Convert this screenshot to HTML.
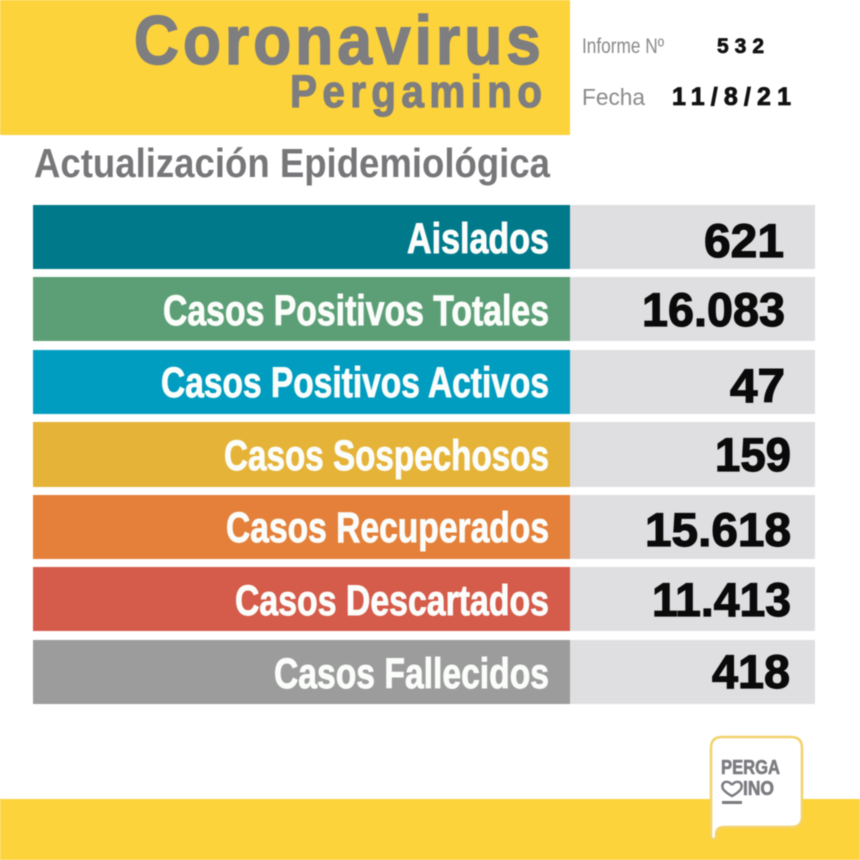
<!DOCTYPE html>
<html lang="es">
<head>
<meta charset="utf-8">
<title>Coronavirus Pergamino</title>
<style>
html,body{margin:0;padding:0;background:#fff;width:860px;height:860px;overflow:hidden}
svg{display:block;filter:blur(0.6px)}
text{font-family:"Liberation Sans",sans-serif}
.lab{font-weight:700;font-size:43px;fill:#fbfdfb;stroke:#fbfdfb;stroke-width:.9px;text-anchor:start}
.val{font-weight:700;font-size:47px;fill:#0a0a0a;stroke:#0a0a0a;stroke-width:1.2px}
.tit{font-weight:700;fill:#7e7e80;stroke:#7e7e80}
</style>
</head>
<body>
<svg xmlns="http://www.w3.org/2000/svg" width="860" height="860" viewBox="0 0 860 860">
  <rect x="0" y="0" width="860" height="860" fill="#ffffff"/>
  <rect x="0" y="0" width="570" height="135" fill="#fdd33b"/>
  <text class="tit" transform="translate(134 64) scale(.9 1)" x="0" y="0" font-size="69" stroke-width="1.6" textLength="452" lengthAdjust="spacing">Coronavirus</text>
  <text class="tit" transform="translate(290 107) scale(.9 1)" x="0" y="0" font-size="45" stroke-width="1.2" textLength="280" lengthAdjust="spacing">Pergamino</text>

  <text x="582" y="53" font-size="21" fill="#8a8a8c" textLength="82" lengthAdjust="spacingAndGlyphs">Informe Nº</text>
  <text x="717" y="53" font-size="21" font-weight="700" fill="#111" stroke="#111" stroke-width=".7" textLength="47" lengthAdjust="spacing">532</text>
  <text x="582" y="105" font-size="23" fill="#8a8a8c" textLength="63" lengthAdjust="spacingAndGlyphs">Fecha</text>
  <text x="672" y="105" font-size="25" font-weight="700" fill="#111" stroke="#111" stroke-width=".8" textLength="119" lengthAdjust="spacing">11/8/21</text>

  <text x="34" y="177" font-size="41" font-weight="700" fill="#77777a" textLength="516" lengthAdjust="spacingAndGlyphs">Actualización Epidemiológica</text>

  <g>
    <rect x="33" y="205" width="537" height="64" fill="#007a8b"/>
    <rect x="570" y="205" width="245" height="64" fill="#dfdee1"/>
    <text class="lab" x="407" y="253" textLength="142" lengthAdjust="spacingAndGlyphs">Aislados</text>
    <text class="val" x="704" y="257" textLength="80" lengthAdjust="spacingAndGlyphs">621</text>
  </g>
  <g>
    <rect x="33" y="277" width="537" height="64" fill="#5c9f76"/>
    <rect x="570" y="277" width="245" height="64" fill="#dfdee1"/>
    <text class="lab" x="163" y="325" textLength="386" lengthAdjust="spacingAndGlyphs">Casos Positivos Totales</text>
    <text class="val" x="642" y="326" textLength="143" lengthAdjust="spacingAndGlyphs">16.083</text>
  </g>
  <g>
    <rect x="33" y="350" width="537" height="64" fill="#009dc0"/>
    <rect x="570" y="350" width="245" height="64" fill="#dfdee1"/>
    <text class="lab" x="161" y="397" textLength="388" lengthAdjust="spacingAndGlyphs">Casos Positivos Activos</text>
    <text class="val" x="730" y="402" textLength="55" lengthAdjust="spacingAndGlyphs">47</text>
  </g>
  <g>
    <rect x="33" y="422" width="537" height="65" fill="#e5b337"/>
    <rect x="570" y="422" width="245" height="65" fill="#dfdee1"/>
    <text class="lab" x="224" y="470" textLength="325" lengthAdjust="spacingAndGlyphs">Casos Sospechosos</text>
    <text class="val" x="715" y="471" textLength="76" lengthAdjust="spacingAndGlyphs">159</text>
  </g>
  <g>
    <rect x="33" y="495" width="537" height="64" fill="#e4803a"/>
    <rect x="570" y="495" width="245" height="64" fill="#dfdee1"/>
    <text class="lab" x="226" y="542" textLength="323" lengthAdjust="spacingAndGlyphs">Casos Recuperados</text>
    <text class="val" x="645" y="546" textLength="146" lengthAdjust="spacingAndGlyphs">15.618</text>
  </g>
  <g>
    <rect x="33" y="567" width="537" height="64" fill="#d55b4a"/>
    <rect x="570" y="567" width="245" height="64" fill="#dfdee1"/>
    <text class="lab" x="235" y="615" textLength="314" lengthAdjust="spacingAndGlyphs">Casos Descartados</text>
    <text class="val" x="652" y="616" textLength="139" lengthAdjust="spacingAndGlyphs">11.413</text>
  </g>
  <g>
    <rect x="33" y="640" width="537" height="64" fill="#9c9c9c"/>
    <rect x="570" y="640" width="245" height="64" fill="#dfdee1"/>
    <text class="lab" x="274" y="688" textLength="275" lengthAdjust="spacingAndGlyphs">Casos Fallecidos</text>
    <text class="val" x="712" y="688" textLength="78" lengthAdjust="spacingAndGlyphs">418</text>
  </g>

  <rect x="0" y="799" width="860" height="61" fill="#fdd33b"/>

  <g>
    <path d="M722 737 H791 Q802 737 802 748 V817 Q802 827 791 827 H724 Q716 827 716 835 V838 Q713 840 711 838 V748 Q711 737 722 737 Z" fill="#ffffff" stroke="#f3d26b" stroke-width="2.5"/>
    <text x="721" y="774" font-size="20" font-weight="700" fill="#7b7b80" stroke="#7b7b80" stroke-width=".6" textLength="59" lengthAdjust="spacingAndGlyphs">PERGA</text>
    <path d="M732 785 Q729 781 725 782 Q721 784 723 789 Q726 793 732 796 Q738 793 741 789 Q743 784 739 782 Q735 781 732 785" fill="none" stroke="#7b7b80" stroke-width="2.4"/>
    <text x="743" y="795" font-size="20" font-weight="700" fill="#7b7b80" stroke="#7b7b80" stroke-width=".6" textLength="31" lengthAdjust="spacingAndGlyphs">INO</text>
    <rect x="722" y="801" width="20" height="3" fill="#7b7b80"/>
  </g>
</svg>
</body>
</html>
